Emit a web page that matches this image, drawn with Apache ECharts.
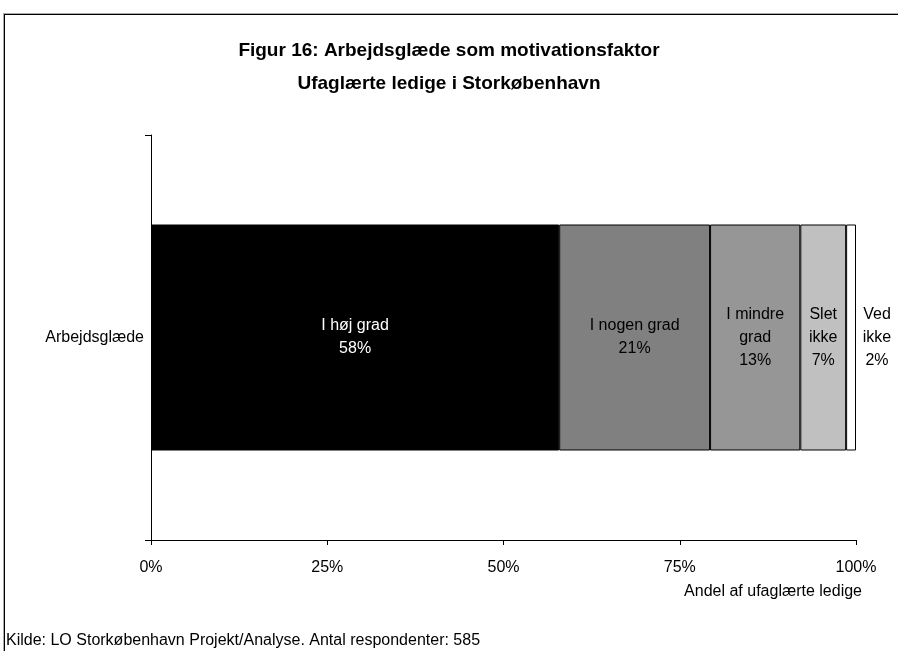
<!DOCTYPE html>
<html>
<head>
<meta charset="utf-8">
<script src="https://cdn.jsdelivr.net/npm/echarts@6/dist/echarts.min.js"></script>
<style>
  html, body { margin: 0; padding: 0; background: #fff; }
  #frame {
    position: absolute; left: 4px; top: 14px; width: 898px; height: 700px;
    border-left: 1px solid #000; border-top: 1px solid #000;
    box-shadow: -1px -1px 0 #aaa;
  }
  #main { position: absolute; left: 0; top: 0; width: 898px; height: 651px; }
</style>
</head>
<body>
<div id="frame"></div>
<div id="main"></div>
<script>
// data
var categories = ['Arbejdsglæde']
var seriesNames = ['I høj grad', 'I nogen grad', 'I mindre grad', 'Slet ikke', 'Ved ikke']
var seriesValues = [57.9, 21.4, 12.8, 6.5, 1.4]
var labelTexts = ['I høj grad\n58%', 'I nogen grad\n21%', 'I mindre\ngrad\n13%', 'Slet\nikke\n7%', 'Ved\nikke\n2%']
var seriesColors = ['#000000', '#808080', '#969696', '#c0c0c0', '#ffffff']
var xTicks = [0, 25, 50, 75, 100]

var FONT = '"Liberation Sans", Arial, sans-serif'

var chartDom = document.getElementById('main')
var myChart = echarts.init(chartDom)

var series = seriesNames.map(function (name, i) {
  var last = i === seriesNames.length - 1
  return {
    name: name,
    type: 'bar',
    stack: 'total',
    barWidth: 226,
    data: [seriesValues[i]],
    itemStyle: {
      color: seriesColors[i],
      borderColor: '#000',
      borderWidth: 1
    },
    label: {
      show: true,
      position: last ? 'right' : 'inside',
      distance: 0,
      offset: last ? [21, 0] : [0, 0],
      align: 'center',
      formatter: labelTexts[i],
      color: i === 0 ? '#fff' : '#000',
      fontFamily: FONT,
      fontSize: 16,
      lineHeight: 23
    },
    silent: true
  }
})

var titleStyle = {
  fontFamily: FONT,
  fontSize: 19,
  fontWeight: 'bold',
  color: '#000'
}

var option = {
  animation: false,
  title: [
    { text: 'Figur 16: Arbejdsglæde som motivationsfaktor', left: 'center', top: 36, textStyle: titleStyle },
    { text: 'Ufaglærte ledige i Storkøbenhavn', left: 'center', top: 69, textStyle: titleStyle }
  ],
  grid: {
    top: 135,
    bottom: 111,
    left: 151,
    right: 42,
    containLabel: false
  },
  xAxis: {
    type: 'value',
    min: xTicks[0],
    max: xTicks[xTicks.length - 1],
    interval: 25,
    splitLine: { show: false },
    axisLine: { show: true, lineStyle: { color: '#000', width: 1 } },
    axisTick: { show: true, length: 5, lineStyle: { color: '#000' } },
    axisLabel: {
      formatter: '{value}%',
      margin: 20,
      color: '#000',
      fontFamily: FONT,
      fontSize: 16
    }
  },
  yAxis: {
    type: 'category',
    data: categories,
    axisLine: { show: true, lineStyle: { color: '#000', width: 1 } },
    axisTick: { show: true, length: 6, lineStyle: { color: '#000' } },
    axisLabel: {
      margin: 7,
      color: '#000',
      fontFamily: FONT,
      fontSize: 16
    }
  },
  graphic: [
    {
      type: 'text',
      right: 36,
      top: 584,
      style: {
        text: 'Andel af ufaglærte ledige',
        fill: '#000',
        font: '16px ' + FONT
      }
    },
    {
      type: 'text',
      left: 6,
      top: 633,
      style: {
        text: 'Kilde: LO Storkøbenhavn Projekt/Analyse. Antal respondenter: 585',
        fill: '#000',
        font: '16px ' + FONT
      }
    }
  ],
  series: series
}

option && myChart.setOption(option)
</script>
</body>
</html>
